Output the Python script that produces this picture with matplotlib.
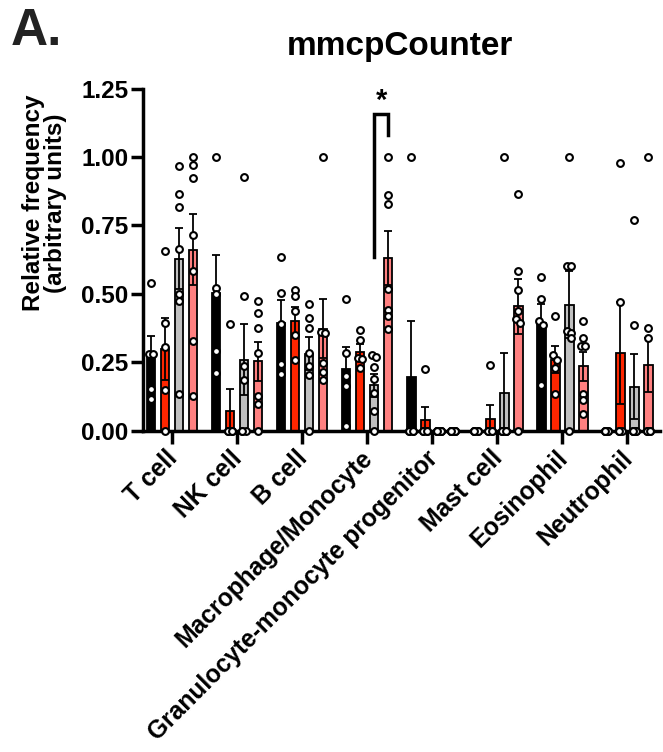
import numpy as np
import matplotlib
matplotlib.use("Agg")
from matplotlib import pyplot as plt
from matplotlib.transforms import ScaledTranslation

plt.rcParams['font.family'] = ['Liberation Sans', 'DejaVu Sans']
plt.rcParams['font.weight'] = 'bold'

## Data
categories = ["T cell", "NK cell", "B cell", "Macrophage/Monocyte",
              "Granulocyte-monocyte progenitor", "Mast cell", "Eosinophil", "Neutrophil"]
colors = ['#000000', '#FF2600', '#C0C0C0', '#FF8080']

# bar heights (mean) and SEM
mean_black = [0.285, 0.504, 0.395, 0.228, 0.197, 0.0, 0.395, 0.0]
mean_red = [0.300, 0.074, 0.400, 0.288, 0.041, 0.044, 0.260, 0.285]
mean_grey = [0.629, 0.260, 0.282, 0.167, 0.0, 0.139, 0.461, 0.162]
mean_pink = [0.662, 0.254, 0.374, 0.632, 0.0, 0.455, 0.236, 0.242]

sem_black = [0.063, 0.140, 0.082, 0.079, 0.203, 0.0, 0.070, 0.0]
sem_red = [0.114, 0.081, 0.053, 0.031, 0.047, 0.052, 0.050, 0.186]
sem_grey = [0.111, 0.130, 0.061, 0.042, 0.0, 0.146, 0.122, 0.118]
sem_pink = [0.129, 0.071, 0.106, 0.098, 0.0, 0.101, 0.052, 0.098]

# individual samples
pts_black = [
    [0.54, 0.28, 0.28, 0.155, 0.118],
    [1.0, 0.523, 0.50, 0.292, 0.212],
    [0.635, 0.504, 0.389, 0.246, 0.209],
    [0.48, 0.285, 0.20, 0.163, 0.017],
    [1.0, 0, 0, 0, 0],
    [0, 0, 0, 0, 0],
    [0.561, 0.483, 0.402, 0.386, 0.169],
    [0, 0, 0, 0, 0],
]
pts_red = [
    [0.657, 0.394, 0.307, 0.151, 0.0],
    [0.39, 0, 0, 0, 0],
    [0.514, 0.492, 0.438, 0.349, 0.258],
    [0.367, 0.333, 0.268, 0.264, 0.231],
    [0.225, 0, 0, 0, 0],
    [0.24, 0, 0, 0, 0],
    [0.42, 0.276, 0.26, 0.231, 0.136],
    [0.978, 0.471, 0, 0, 0],
]
pts_grey = [
    [0.966, 0.866, 0.818, 0.663, 0.501, 0.475, 0.134],
    [0.927, 0.492, 0.236, 0.187, 0, 0, 0],
    [0.462, 0.414, 0.377, 0.285, 0.236, 0.203, 0],
    [0.276, 0.27, 0.234, 0.191, 0.139, 0.073, 0],
    [0, 0, 0, 0, 0, 0, 0],
    [1.0, 0, 0, 0, 0, 0, 0],
    [1.0, 0.601, 0.601, 0.365, 0.358, 0.34, 0],
    [0.771, 0.388, 0, 0, 0, 0, 0],
]
pts_pink = [
    [1.0, 0.97, 0.922, 0.717, 0.584, 0.329, 0.129],
    [0.473, 0.432, 0.377, 0.285, 0.127, 0.097, 0],
    [1.0, 0.36, 0.357, 0.248, 0.215, 0.187],
    [1.0, 0.86, 0.827, 0.52, 0.44, 0.419, 0.374],
    [0, 0, 0, 0, 0, 0, 0],
    [0.865, 0.585, 0.516, 0.437, 0.41, 0.395, 0],
    [0.402, 0.34, 0.31, 0.31, 0.134, 0.114, 0.063],
    [1.0, 0.377, 0.341, 0, 0, 0, 0],
]

# significance bracket: category, series from, series to, bracket top, leg bottoms
sig_cat, sig_from, sig_to = 3, 2, 3
sig_top, sig_left_bottom, sig_right_bottom = 1.158, 0.635, 1.079

means = [mean_black, mean_red, mean_grey, mean_pink]
sems = [sem_black, sem_red, sem_grey, sem_pink]
points = [pts_black, pts_red, pts_grey, pts_pink]


def spread(vals, d=0.03):
    # punten met (bijna) dezelfde waarde een beetje opzij schuiven
    vals = np.asarray(vals, dtype=float)
    offs = np.zeros(len(vals))
    for i in range(len(vals)):
        k = np.sum(np.abs(vals[:i] - vals[i]) < 0.02)
        if np.sum(np.abs(vals - vals[i]) < 0.02) > 1:
            offs[i] = -d if k % 2 == 0 else d
    return offs


fig = plt.figure(figsize=(6.63, 7.52), dpi=100)
ax = fig.add_axes([0.2157, 0.4269, 0.7798, 0.4554])

x = np.arange(len(categories))
step, width = 0.215, 0.13
for j in range(4):
    xs = x + (j - 1.5) * step
    ax.bar(xs, means[j], width=width, color=colors[j], edgecolor='black',
           linewidth=1.3, zorder=2)
    ax.errorbar(xs, means[j], yerr=sems[j], fmt='none', ecolor='black',
                elinewidth=1.3, capsize=2.6, capthick=1.3, zorder=3)
    for i in range(len(categories)):
        v = points[j][i]
        ax.scatter(xs[i] + spread(v), v, s=24, facecolor='white',
                   edgecolor='black', linewidth=1.5, zorder=4, clip_on=False)

# bracket + asterisk
xl = sig_cat + (sig_from - 1.5) * step
xr = sig_cat + (sig_to - 1.5) * step
ax.plot([xl, xl, xr, xr], [sig_left_bottom, sig_top, sig_top, sig_right_bottom],
        color='black', lw=2.5, solid_joinstyle='miter', clip_on=False, zorder=5)
ax.text((xl + xr) / 2, 1.175, '*', ha='center', va='baseline',
        fontsize=21, fontweight='bold')

ax.set_xlim(-0.446, 7.5)
ax.set_ylim(0, 1.25)
ax.set_yticks([0, 0.25, 0.5, 0.75, 1.0, 1.25])
ax.set_yticklabels(['0.00', '0.25', '0.50', '0.75', '1.00', '1.25'])
ax.set_xticks(x)
ax.set_xticklabels(categories, rotation=45, ha='right', va='top',
                   rotation_mode='anchor')

for s in ['top', 'right']:
    ax.spines[s].set_visible(False)
for s in ['left', 'bottom']:
    ax.spines[s].set_linewidth(2.5)
ax.tick_params(axis='y', length=9, width=2.5, labelsize=17.5, pad=1.5)
ax.tick_params(axis='x', length=9, width=2.5, labelsize=17.7, pad=2)
shift = ScaledTranslation(-7 / 100, 0, fig.dpi_scale_trans)
for lab in ax.get_xticklabels():
    lab.set_transform(lab.get_transform() + shift)
for lab in ax.get_xticklabels() + ax.get_yticklabels():
    lab.set_fontweight('bold')

ax.set_ylabel('Relative frequency\n(arbitrary units)', fontsize=17.5,
              fontweight='bold', linespacing=0.95)
ax.yaxis.set_label_coords(-0.147, 0.665)

fig.text(0.603, 1 - 55 / 752, 'mmcpCounter', ha='center', va='baseline',
         fontsize=24, fontweight='bold')
fig.text(0.016, 1 - 45 / 752, 'A.', ha='left', va='baseline', fontsize=37,
         fontweight='bold', color='#222222')

fig.savefig('out.png', dpi=100)
